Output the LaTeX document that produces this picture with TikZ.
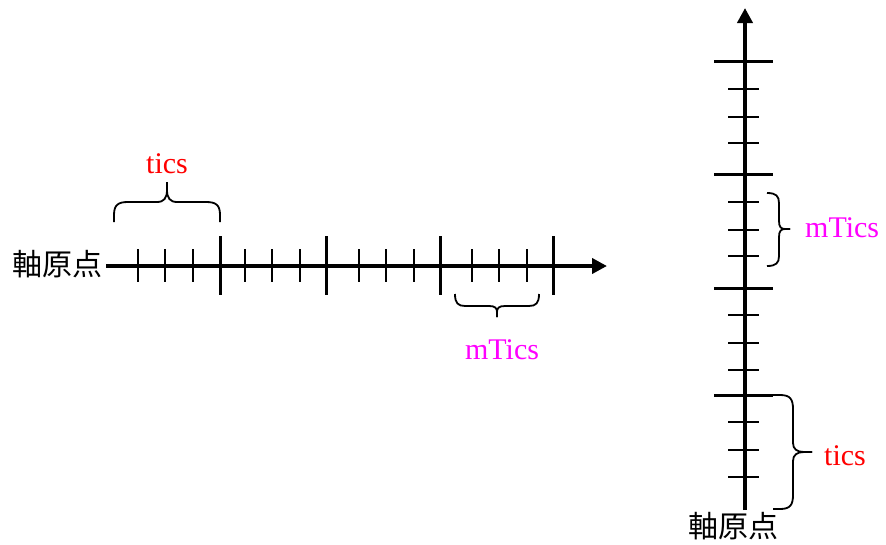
\documentclass[tikz,border=0pt]{standalone}
\usepackage{fontspec}
\setmainfont{Liberation Serif}
\newfontfamily\jpfont{Noto Sans CJK JP}
\usetikzlibrary{arrows.meta}
\definecolor{lblred}{RGB}{255,0,0}
\definecolor{lblmag}{RGB}{255,0,255}
\begin{document}
\begin{tikzpicture}[x=1pt,y=-1pt,
  axisline/.style={line width=4pt,-{Triangle[length=15pt,width=15pt]}},
  majortic/.style={line width=3pt},
  minortic/.style={line width=2pt},
  brc/.style={line width=1.8pt},
  lbl/.style={inner sep=0pt,font=\fontsize{30}{30}\selectfont},
  jplbl/.style={inner sep=0pt,font=\jpfont\fontsize{30}{30}\selectfont}]
\useasboundingbox (0,0) rectangle (886,544);

% horizontal axis
\coordinate (hO) at (106,266);
\coordinate (hE) at (607,266);
\foreach \d in {114,220,334,447}
  \draw[majortic] (106+\d,236) -- (106+\d,295);
\foreach \d in {32,59,87,139,166,194,253,280,308,366,393,421}
  \draw[minortic] (106+\d,249) -- (106+\d,282);
\draw[axisline] (hO) -- (hE);
\node[jplbl,anchor=east] (hOlabel) at (103,264) {軸原点};

% top brace (tics)
\draw[brc] (114,222) -- (114,215) .. controls (114,205) and (118,202) .. (128,202) -- (157,202) .. controls (164,202) and (167,198) .. (167,190) -- (167,182);
\draw[brc] (220,222) -- (220,215) .. controls (220,205) and (216,202) .. (206,202) -- (177,202) .. controls (170,202) and (167,198) .. (167,190) -- (167,182);
\node[lbl,anchor=base,text=lblred] (ticsH) at (167,173) {tics};

% bottom brace (mTics)
\draw[brc] (455,294) .. controls (455,303) and (458,306) .. (465,306) -- (489,306) .. controls (495,306) and (497,308) .. (497,312) -- (497,317);
\draw[brc] (539,294) .. controls (539,303) and (536,306) .. (529,306) -- (505,306) .. controls (499,306) and (497,308) .. (497,312) -- (497,317);
\node[lbl,anchor=base,text=lblmag] (mticsH) at (502,359) {mTics};

% vertical axis
\coordinate (vO) at (745,510);
\coordinate (vE) at (745,8);
\foreach \d in {115,222,336,449}
  \draw[majortic] (714,510-\d) -- (773,510-\d);
\foreach \d in {33,60,88,140,167,195,254,280,308,367,393,421}
  \draw[minortic] (728,510-\d) -- (759,510-\d);
\draw[axisline] (vO) -- (vE);
\node[jplbl,anchor=center] (vOlabel) at (733,526) {軸原点};

% right brace (mTics)
\draw[brc] (767,193) .. controls (776,193) and (779,196) .. (779,203) -- (779,221) .. controls (779,227) and (781,229) .. (785,229) -- (790,229);
\draw[brc] (767,266) .. controls (776,266) and (779,263) .. (779,256) -- (779,237) .. controls (779,231) and (781,229) .. (785,229) -- (790,229);
\node[lbl,anchor=base west,text=lblmag] (mticsV) at (805,237) {mTics};

% right brace (tics)
\draw[brc] (773,395) -- (780,395) .. controls (790,395) and (793,399) .. (793,409) -- (793,443) .. controls (793,449) and (797,452) .. (804,452) -- (812,452);
\draw[brc] (773,509) -- (780,509) .. controls (790,509) and (793,505) .. (793,495) -- (793,461) .. controls (793,455) and (797,452) .. (804,452) -- (812,452);
\node[lbl,anchor=base west,text=lblred] (ticsV) at (824,465) {tics};
\end{tikzpicture}
\end{document}
